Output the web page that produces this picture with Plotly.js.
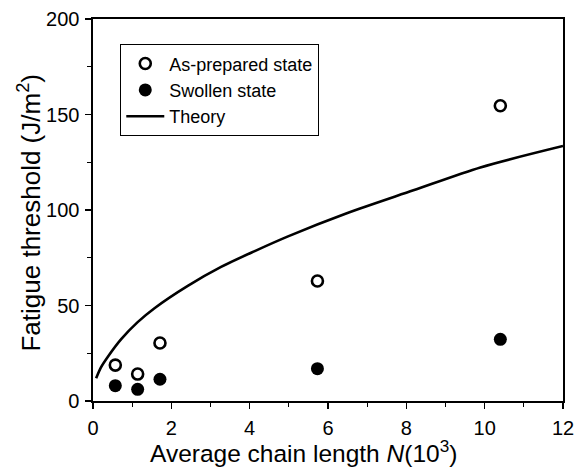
<!DOCTYPE html>
<html>
<head>
<meta charset="utf-8">
<script src="https://cdn.plot.ly/plotly-3.0.1.min.js"></script>
<style>html,body{margin:0;padding:0;background:#fff;}#chart{width:582px;height:474px;}</style>
</head>
<body>
<div id="chart"></div>
<script>
const chainLength = [0.57, 1.14, 1.71, 5.73, 10.4];
const asPrepared = [18.8, 14.1, 30.4, 62.8, 154.6];
const swollen = [8.0, 6.1, 11.4, 16.9, 32.3];
const theoryN = [0.08, 0.2, 0.38, 0.72, 1.14, 1.57, 2.42, 3.27, 4.13, 4.98, 6.48, 8.18, 9.89, 12.0];
const theoryG = [11.9, 17.5, 23.2, 32.4, 41.3, 48.6, 60.3, 70.2, 78.5, 86.2, 98.3, 110.3, 122.3, 133.5];
const xTicks = [0, 2, 4, 6, 8, 10, 12];
const yTicks = [0, 50, 100, 150, 200];
const xTitle = 'Average chain length <i>N</i>(10<sup>3</sup>)';
const yTitle = 'Fatigue threshold (J/m<sup>2</sup>)';

const font = "Liberation Sans, Arial, sans-serif";
const traces = [
  {x: chainLength, y: asPrepared, type: 'scatter', mode: 'markers', name: 'As-prepared state',
   marker: {symbol: 'circle-open', size: 11, color: '#000', line: {width: 2.6, color: '#000'}}},
  {x: chainLength, y: swollen, type: 'scatter', mode: 'markers', name: 'Swollen state',
   marker: {symbol: 'circle', size: 13, color: '#000'}},
  {x: theoryN, y: theoryG, type: 'scatter', mode: 'lines', name: 'Theory', line: {color: '#000', width: 2.6, shape: 'spline', smoothing: 0.8}}
];
const axisCommon = {
  showgrid: false, zeroline: false, showline: true, linecolor: '#000', linewidth: 1.6, mirror: true,
  ticks: 'outside', ticklen: 6, tickwidth: 1.5, tickcolor: '#000',
  tickfont: {family: font, size: 20, color: '#000'},
  minor: {ticks: 'outside', ticklen: 4, tickwidth: 1.2, tickcolor: '#000'}
};
const layout = {
  width: 582, height: 474,
  margin: {l: 93, r: 19, t: 19, b: 73},
  paper_bgcolor: '#fff', plot_bgcolor: '#fff',
  showlegend: true,
  legend: {x: 0.0574, y: 0.9346, xanchor: 'left', yanchor: 'top', bordercolor: '#000', borderwidth: 1.3,
    font: {family: font, size: 18, color: '#000'}, bgcolor: '#fff', itemwidth: 38},
  xaxis: Object.assign({}, axisCommon, {range: [0, 12], tickvals: xTicks, ticktext: xTicks.map(String),
    ticklabelstandoff: 2,
    minor: Object.assign({}, axisCommon.minor, {dtick: 1, tick0: 0})}),
  yaxis: Object.assign({}, axisCommon, {range: [0, 200], tickvals: yTicks, ticktext: yTicks.map(String),
    ticklabelstandoff: 2,
    minor: Object.assign({}, axisCommon.minor, {dtick: 25, tick0: 0})}),
  annotations: [
    {text: xTitle, xref: 'paper', yref: 'paper', x: 0.447, y: -0.131, xanchor: 'center', yanchor: 'middle',
     showarrow: false, font: {family: font, size: 24.5, color: '#000'}},
    {text: yTitle, xref: 'paper', yref: 'paper', x: -0.136, y: 0.491, xanchor: 'center', yanchor: 'middle',
     textangle: -90, showarrow: false, font: {family: font, size: 26, color: '#000'}}
  ]
};
Plotly.newPlot('chart', traces, layout, {displayModeBar: false, staticPlot: true});
</script>
</body>
</html>
